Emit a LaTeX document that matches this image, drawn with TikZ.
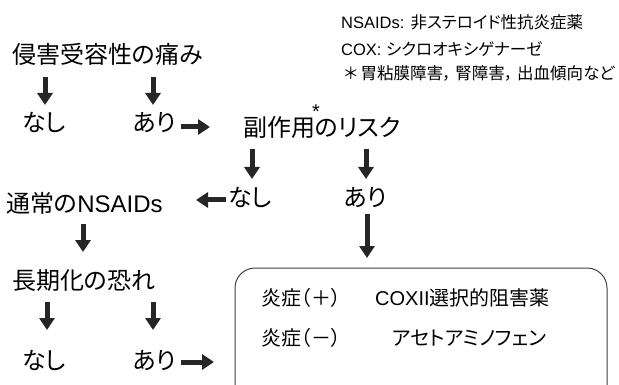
\documentclass[tikz,border=0pt]{standalone}
\usepackage{fontspec}
\setmainfont{Liberation Sans}
\newfontfamily\jp[RawFeature=+palt]{Noto Sans CJK JP}
\usetikzlibrary{arrows.meta}
\tikzset{
  big/.style={font=\fontsize{24}{28}\selectfont, inner sep=0pt},
  small/.style={font=\fontsize{16.5}{19}\selectfont, inner sep=0pt, anchor=base west},
  boxtxt/.style={font=\fontsize{20}{24}\selectfont, inner sep=0pt, anchor=base west},
  blk/.style={line width=5pt, -{Triangle[width=15pt,length=12pt]}, black!85},
}
\begin{document}
\begin{tikzpicture}[x=1pt,y=-1pt]
\useasboundingbox (0,0) rectangle (619,385);
% legend
\node[small] (leg1) at (341,29) {NSAIDs: {\jp 非ステロイド性抗炎症薬}};
\node[small] (leg2) at (341,56) {COX: {\jp シクロオキシゲナーゼ}};
\node[small] (leg3) at (344,80) {\jp ＊\hspace{3pt}胃粘膜障害，\hspace{4pt}腎障害，\hspace{4pt}出血傾向など};
% main texts
\node[big, anchor=base west] (pain) at (12,64) {\jp 侵害受容性の痛み};
\node[big, anchor=base] (nashi1) at (44,132) {\jp なし};
\node[big, anchor=base] (ari1) at (154,132) {\jp あり};
\node[big, anchor=base west] (risk) at (243,137) {\jp 副作用のリスク};
\node[font=\fontsize{20}{24}\selectfont, inner sep=0pt, anchor=base] (star) at (316,119) {\smash{*}};
\node[big, anchor=base] (nashi2) at (250,207) {\jp なし};
\node[big, anchor=base] (ari2) at (365,207) {\jp あり};
\node[big, anchor=base west] (nsaid) at (6,213) {{\jp 通常の}NSAIDs};
\node[big, anchor=base west] (long) at (12,289) {\jp 長期化の恐れ};
\node[big, anchor=base] (nashi3) at (44,369) {\jp なし};
\node[big, anchor=base] (ari3) at (154,369) {\jp あり};
% box
\draw[black!75, line width=1pt, rounded corners=20pt] (235,268) rectangle (607,430);
\node[boxtxt] (inf1) at (261,305.5) {\jp 炎症（＋）};
\node[boxtxt] (cox2) at (375,305.5) {COXII{\jp 選択的阻害薬}};
\node[boxtxt] (inf2) at (261,345.5) {\jp 炎症（－）};
\node[boxtxt] (acet) at (392,345.5) {\jp アセトアミノフェン};
% arrow coordinates
\coordinate (a1s) at (45,77);   \coordinate (a1e) at (45,105);
\coordinate (a2s) at (153,77);  \coordinate (a2e) at (153,105);
\coordinate (a3s) at (181,127); \coordinate (a3e) at (210,127);
\coordinate (a4s) at (252,149); \coordinate (a4e) at (252,179);
\coordinate (a5s) at (366,149); \coordinate (a5e) at (366,179);
\coordinate (a6s) at (226,200); \coordinate (a6e) at (196,200);
\coordinate (a7s) at (367,214); \coordinate (a7e) at (367,258);
\coordinate (a8s) at (83,224);  \coordinate (a8e) at (83,252);
\coordinate (a9s) at (47,302);  \coordinate (a9e) at (47,330);
\coordinate (a10s) at (153,302); \coordinate (a10e) at (153,330);
\coordinate (a11s) at (181,362); \coordinate (a11e) at (214,362);
\foreach \i in {1,...,11} {\draw[blk] (a\i s) -- (a\i e);}
\end{tikzpicture}
\end{document}
